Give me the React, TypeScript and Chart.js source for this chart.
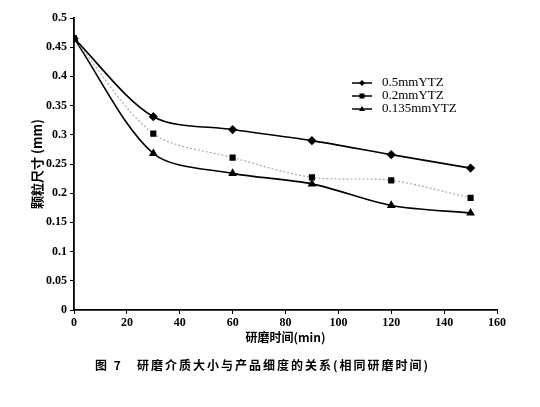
import React, { useEffect, useRef } from "react";
import { Chart, registerables } from "chart.js";

Chart.register(...registerables);

const times = [0, 30, 60, 90, 120, 150];
const s05 = [0.465, 0.331, 0.309, 0.29, 0.266, 0.243];
const s02 = [0.465, 0.302, 0.261, 0.227, 0.222, 0.192];
const s0135 = [0.465, 0.268, 0.234, 0.216, 0.179, 0.166];
const seriesNames = ["0.5mmYTZ", "0.2mmYTZ", "0.135mmYTZ"];
const xTitle = "研磨时间(min)";
const yTitle = "颗粒尺寸 (mm)";
const caption = "图 7   研磨介质大小与产品细度的关系(相同研磨时间)";

const toPts = (ys: number[]) => ys.map((y, i) => ({ x: times[i], y }));

const legendPlugin = {
  id: "customLegend",
  afterDraw(chart: any) {
    const ctx = chart.ctx;
    const styles = ["rectRot", "rect", "triangle"];
    const rows = [83, 96, 109];
    ctx.save();
    seriesNames.forEach((name, i) => {
      const y = rows[i];
      ctx.strokeStyle = "#000";
      ctx.lineWidth = 1.5;
      ctx.beginPath();
      ctx.moveTo(352, y);
      ctx.lineTo(372, y);
      ctx.stroke();
      ctx.fillStyle = "#000";
      ctx.beginPath();
      const r = 3;
      if (styles[i] === "rectRot") {
        ctx.moveTo(362, y - r);
        ctx.lineTo(362 + r, y);
        ctx.lineTo(362, y + r);
        ctx.lineTo(362 - r, y);
      } else if (styles[i] === "rect") {
        ctx.rect(362 - 2.5, y - 2.5, 5, 5);
      } else {
        ctx.moveTo(362, y - 3);
        ctx.lineTo(365, y + 2);
        ctx.lineTo(359, y + 2);
      }
      ctx.closePath();
      ctx.fill();
      ctx.font = "13px 'Liberation Serif'";
      ctx.textBaseline = "middle";
      ctx.textAlign = "left";
      ctx.fillText(name, 382, y);
    });
    ctx.restore();
  },
};

export default function App() {
  const ref = useRef<HTMLCanvasElement>(null);
  useEffect(() => {
    if (!ref.current) return;
    const chart = new Chart(ref.current, {
      type: "line",
      data: {
        datasets: [
          {
            label: seriesNames[0],
            data: toPts(s05),
            borderColor: "#000",
            backgroundColor: "#000",
            borderWidth: 1.6,
            pointStyle: "rectRot",
            pointRadius: 3.5,
            tension: 0.3,
          },
          {
            label: seriesNames[1],
            data: toPts(s02),
            borderColor: "#aaa",
            backgroundColor: "#000",
            pointBorderColor: "#000",
            borderWidth: 1.2,
            borderDash: [2, 2],
            pointStyle: "rect",
            pointRadius: 3.5,
            tension: 0.3,
          },
          {
            label: seriesNames[2],
            data: toPts(s0135),
            borderColor: "#000",
            backgroundColor: "#000",
            borderWidth: 1.6,
            pointStyle: "triangle",
            pointRadius: 3.5,
            tension: 0.3,
          },
        ],
      },
      options: {
        animation: false,
        responsive: true,
        maintainAspectRatio: false,
        layout: { padding: { top: 18, right: 43, left: 0, bottom: 60 } },
        plugins: { legend: { display: false }, tooltip: { enabled: false } },
        scales: {
          x: {
            type: "linear",
            min: 0,
            max: 160,
            afterFit: (s: any) => {
              s.height = 37;
            },
            ticks: {
              stepSize: 20,
              color: "#000",
              padding: 2,
              maxRotation: 0,
              font: { family: "'Liberation Serif'", size: 12, weight: "bold" },
            },
            grid: {
              drawOnChartArea: false,
              tickLength: 4,
              color: "#000",
              lineWidth: 1,
            },
            border: { color: "#000", width: 1.8 },
            title: {
              display: true,
              text: xTitle,
              color: "#000",
              padding: { top: 0, bottom: 2 },
              font: { family: "'Noto Sans CJK SC'", size: 12, weight: "bold" },
            },
          },
          y: {
            min: 0,
            max: 0.5,
            afterFit: (s: any) => {
              s.width = 74;
            },
            ticks: {
              stepSize: 0.05,
              color: "#000",
              padding: 3,
              font: { family: "'Liberation Serif'", size: 12, weight: "bold" },
              callback: (v: any) => String(Number(Number(v).toFixed(2))),
            },
            grid: {
              drawOnChartArea: false,
              tickLength: 4,
              color: "#000",
              lineWidth: 1,
            },
            border: { color: "#000", width: 1.8 },
            title: {
              display: true,
              text: yTitle,
              color: "#000",
              padding: { top: 29, bottom: 0 },
              font: { family: "'Noto Sans CJK SC'", size: 13, weight: "bold" },
            },
          },
        },
      },
      plugins: [legendPlugin],
    });
    return () => chart.destroy();
  }, []);
  return (
    <div style={{ position: "absolute", left: 0, top: 0, width: 540, height: 407, background: "#fff" }}>
      <canvas ref={ref} />
      <div
        style={{
          position: "absolute",
          left: 0,
          width: 525,
          top: 356,
          textAlign: "center",
          fontFamily: "'Noto Sans CJK SC'",
          fontWeight: "bold",
          fontSize: 12,
          letterSpacing: 2,
          whiteSpace: "pre",
          color: "#000",
        }}
      >
        {caption}
      </div>
    </div>
  );
}
